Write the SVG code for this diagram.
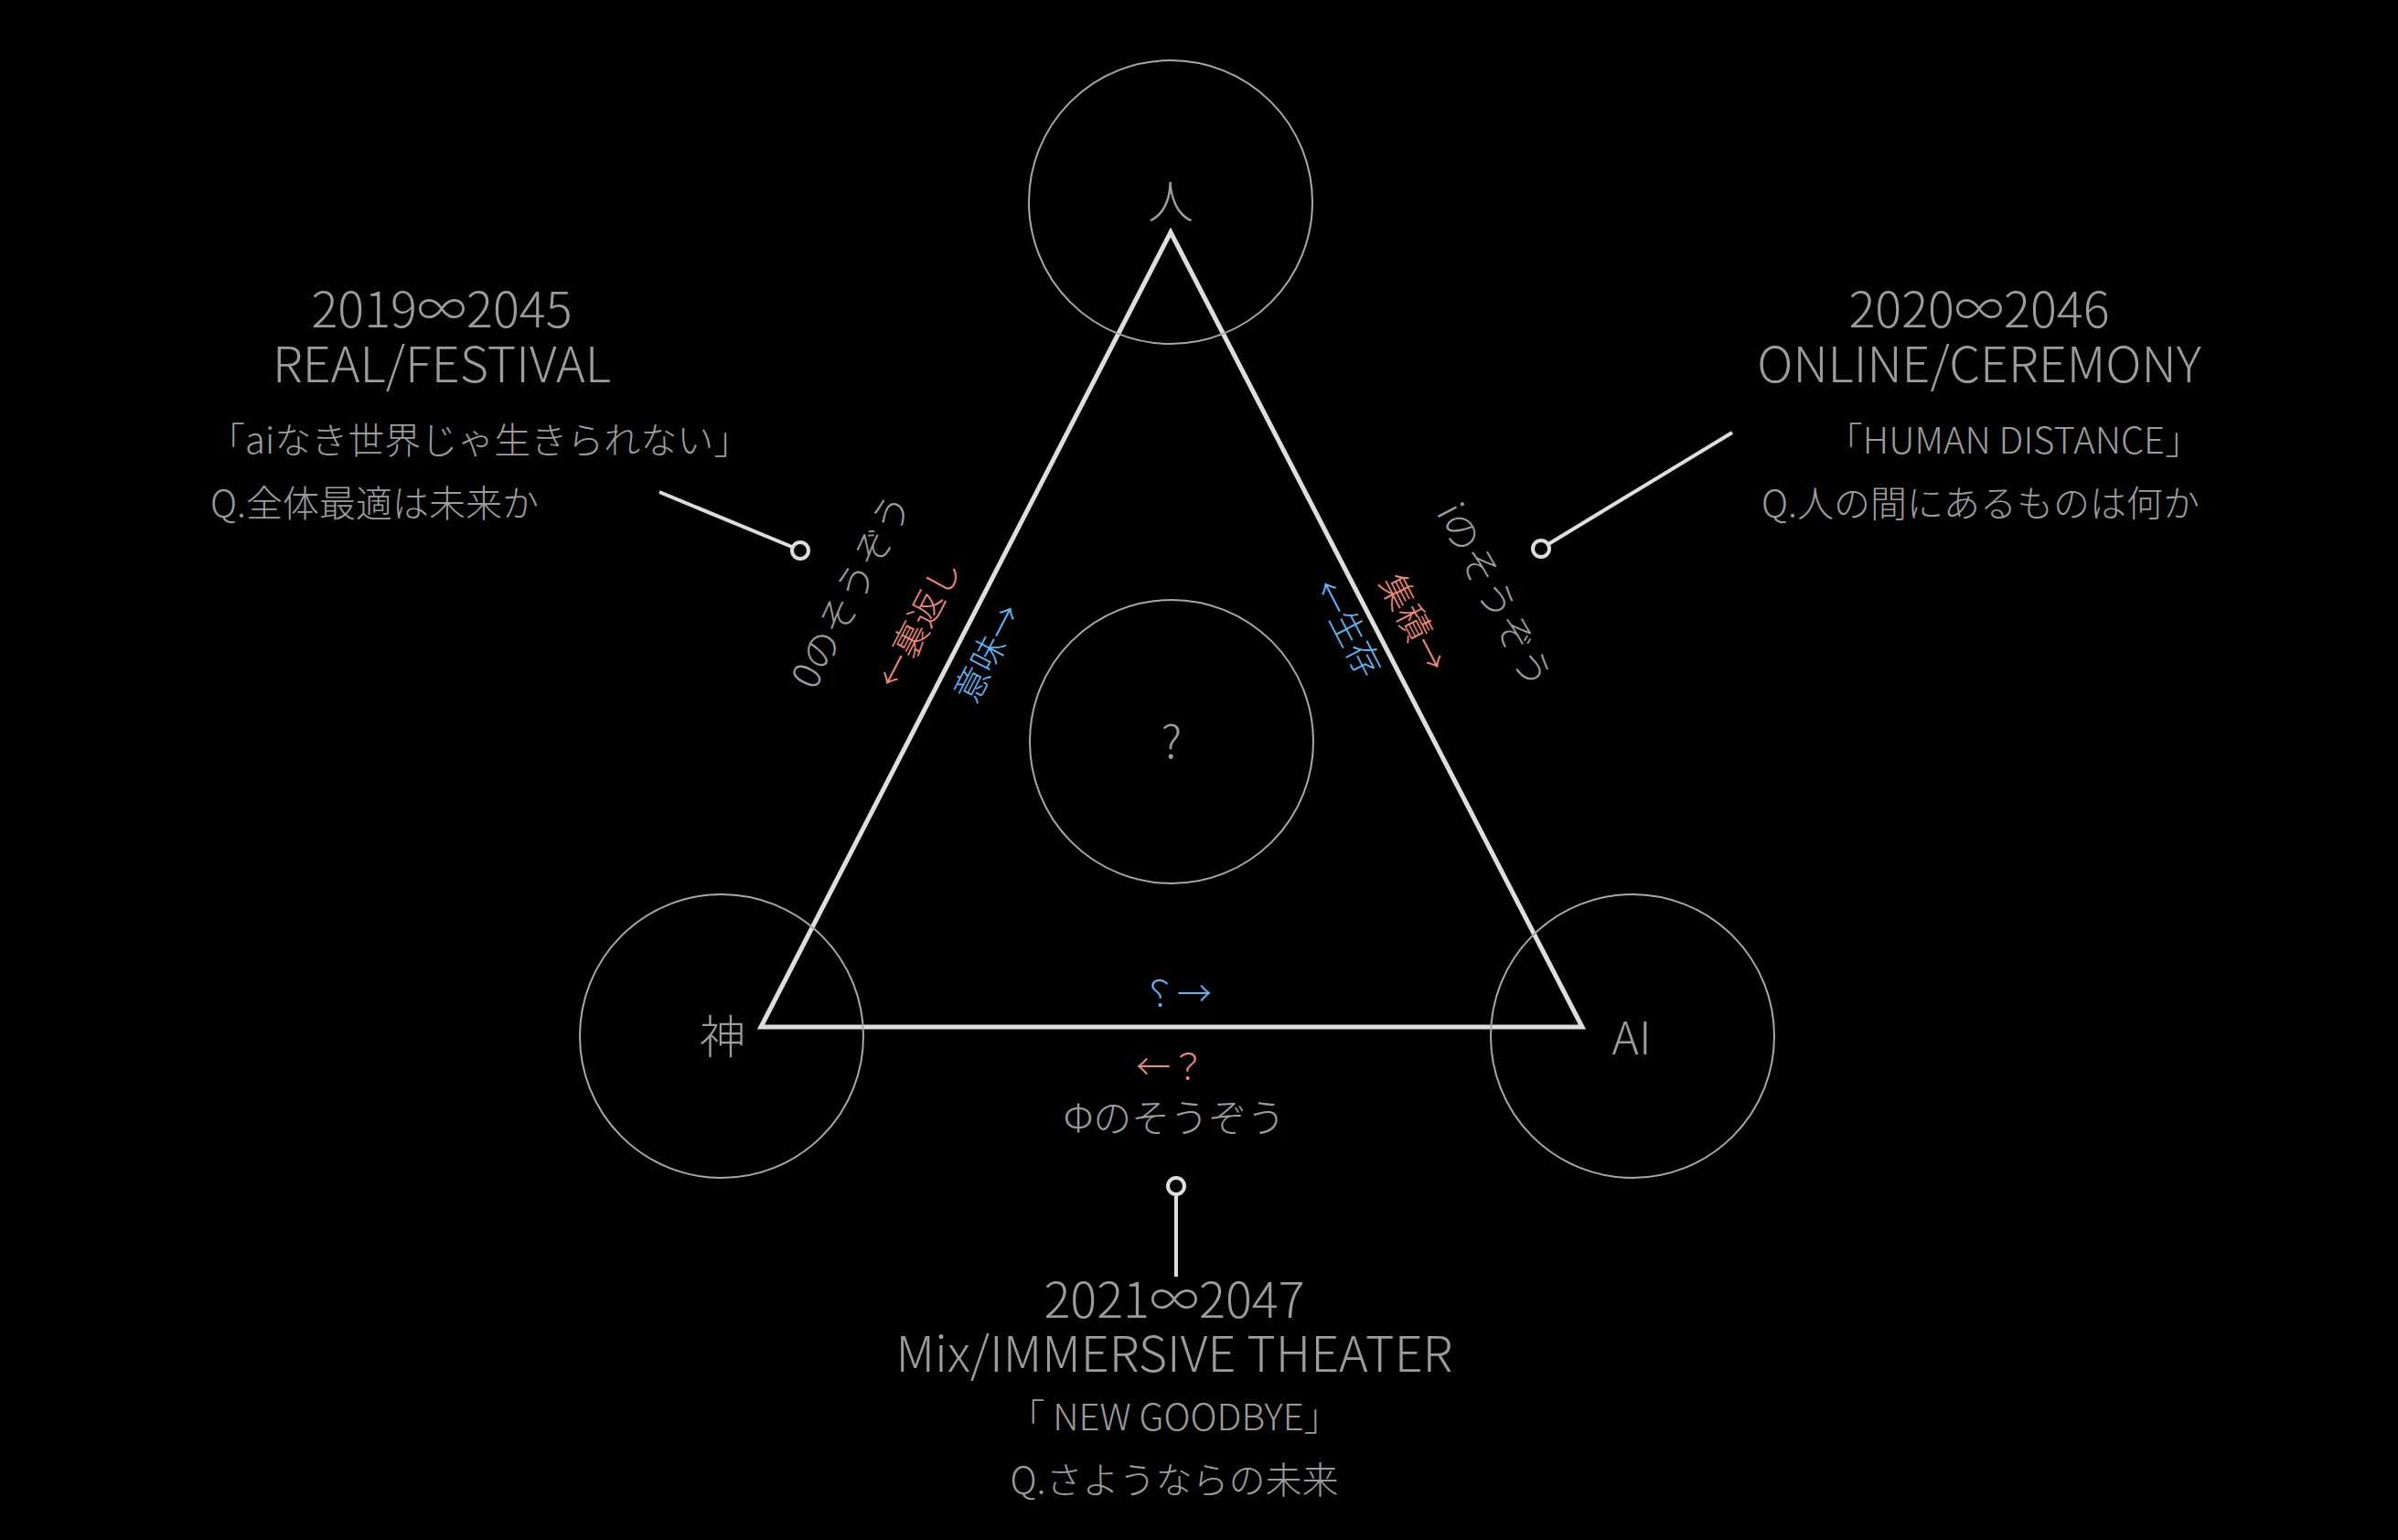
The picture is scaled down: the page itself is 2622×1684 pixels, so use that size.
<svg xmlns="http://www.w3.org/2000/svg" width="2622" height="1684" viewBox="0 0 2622 1684">
<style>
text{font-family:"Noto Sans CJK JP","Noto Sans",sans-serif;font-weight:300;fill:#9c9c9c}
.title{font-size:54px;text-anchor:middle}
.sub{font-size:40px}
.lbl{font-size:50px;text-anchor:middle}
.edge{font-size:38px;text-anchor:middle}
.red{fill:#f08a7c}
.blue{fill:#62b5f2}
.gray{font-size:42px;text-anchor:middle}
.ring{fill:none;stroke:#a8a8a8;stroke-width:2}
.tri{fill:none;stroke:#dedede;stroke-width:5}
.call{stroke:#dedede;stroke-width:4;fill:none}
.dot{fill:#000;stroke:#dedede;stroke-width:4}
</style>
<rect width="2622" height="1684" fill="#000"/>
<g id="connectors">
<polygon class="tri" points="1280,254 832,1123 1730,1123"/>
<line class="call" x1="721" y1="538" x2="866" y2="598"/>
<circle class="dot" cx="875" cy="602" r="9"/>
<line class="call" x1="1894" y1="473" x2="1693" y2="595"/>
<circle class="dot" cx="1685" cy="600" r="9"/>
<line class="call" x1="1286" y1="1307" x2="1286" y2="1396"/>
<circle class="dot" cx="1286" cy="1297" r="9"/>
</g>
<g id="edge-labels">
<text class="edge red" transform="translate(1004,682) rotate(-62.6)" y="14">←裏返し</text>
<text class="edge blue" transform="translate(1080,714) rotate(-62.6)" y="14">意味→</text>
<text class="gray" transform="translate(931,646) rotate(-62.6)" y="15">0のそうぞう</text>
<text class="edge red" transform="translate(1546,681) rotate(62.6)" y="14">集積→</text>
<text class="edge blue" transform="translate(1474,687) rotate(62.6)" y="14">←生存</text>
<text class="gray" transform="translate(1634,651) rotate(62.6)" y="15">iのそうぞう</text>
<text class="edge blue" transform="translate(1287,1100) scale(-1,1)">←？</text>
<text class="edge red" x="1280" y="1180">←？</text>
<text class="gray" x="1284" y="1238">Φのそうぞう</text>
</g>
<g id="node-hito">
<circle class="ring" cx="1280" cy="221" r="155"/>
<text class="lbl" x="1280" y="239">人</text>
</g>
<g id="node-kami">
<circle class="ring" cx="789" cy="1133" r="155"/>
<text class="lbl" x="790" y="1152">神</text>
</g>
<g id="node-ai">
<circle class="ring" cx="1785" cy="1133" r="155"/>
<text class="lbl" x="1784" y="1153">AI</text>
</g>
<g id="node-center">
<circle class="ring" cx="1281" cy="811" r="155"/>
<text class="lbl" x="1281" y="829">?</text>
</g>
<g id="block-2019">
<text class="title" x="483" y="358">2019∞2045</text>
<text class="title" x="483" y="418">REAL/FESTIVAL</text>
<text class="sub" x="228" y="496">「aiなき世界じゃ生きられない」</text>
<text class="sub" x="230" y="565">Q.全体最適は未来か</text>
</g>
<g id="block-2020">
<text class="title" x="2164" y="358">2020∞2046</text>
<text class="title" x="2164" y="418">ONLINE/CEREMONY</text>
<text class="sub" x="2407" y="496" text-anchor="end">「HUMAN DISTANCE」</text>
<text class="sub" x="2405" y="565" text-anchor="end">Q.人の間にあるものは何か</text>
</g>
<g id="block-2021">
<text class="title" x="1284" y="1441">2021∞2047</text>
<text class="title" x="1284" y="1500">Mix/IMMERSIVE THEATER</text>
<text class="sub" x="1284" y="1564" text-anchor="middle">「 NEW GOODBYE」</text>
<text class="sub" x="1284" y="1633" text-anchor="middle">Q.さようならの未来</text>
</g>
</svg>
